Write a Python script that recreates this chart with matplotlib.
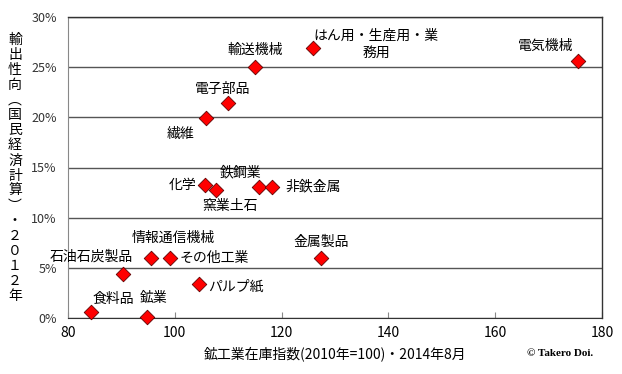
import matplotlib
matplotlib.use("Agg")
import matplotlib.pyplot as plt
from matplotlib.ticker import FuncFormatter

plt.rcParams['font.family'] = ['Noto Sans CJK JP', 'DejaVu Sans']

names = ["食料品", "鉱業", "石油石炭製品", "情報通信機械", "その他工業", "パルプ紙",
         "金属製品", "化学", "窯業土石", "鉄鋼業", "非鉄金属", "繊維", "電子部品",
         "輸送機械", "はん用・生産用・業\n務用", "電気機械"]
inventory = [84.3, 94.8, 90.3, 95.5, 99.1, 104.5, 127.4, 105.7, 107.7, 115.8, 118.2,
             105.8, 110.0, 115.0, 125.9, 175.5]
export_ratio = [0.6, 0.1, 4.4, 6.0, 6.0, 3.4, 6.0, 13.3, 12.8, 13.1, 13.1,
                19.9, 21.4, 25.0, 26.9, 25.6]
x_ticks = [80, 100, 120, 140, 160, 180]
y_ticks = [0, 5, 10, 15, 20, 25, 30]

# label offsets in pixels (dx, dy, ha)
offsets = {
    "食料品": (2, 13, "left"),
    "鉱業": (-7, 19, "left"),
    "石油石炭製品": (10, 17, "right"),
    "情報通信機械": (22, 20, "center"),
    "その他工業": (10, 0, "left"),
    "パルプ紙": (9, -3, "left"),
    "金属製品": (0, 16, "center"),
    "化学": (-9, 0, "right"),
    "窯業土石": (14, -16, "center"),
    "鉄鋼業": (-19, 14, "center"),
    "非鉄金属": (13, 0, "left"),
    "繊維": (-11, -16, "right"),
    "電子部品": (-6, 14, "center"),
    "輸送機械": (0, 17, "center"),
    "はん用・生産用・業\n務用": (63, 4, "center"),
    "電気機械": (-32, 15, "center"),
}

fig = plt.figure(figsize=(6.22, 3.74), dpi=100)
ax = fig.add_axes([68/622, 1-318/374, (602-68)/622, (318-17)/374])

ax.scatter(inventory, export_ratio, marker="D", s=55, c="#ff0000",
           edgecolors="#600000", linewidths=0.6, zorder=5, clip_on=False)

for n, xv, yv in zip(names, inventory, export_ratio):
    dx, dy, ha = offsets[n]
    ax.annotate(n, (xv, yv), xytext=(dx, dy), textcoords="offset pixels",
                ha=ha, va="center", fontsize=10, color="black",
                multialignment="center", linespacing=1.3, zorder=6)

ax.set_xlim(80, 180)
ax.set_ylim(0, 30)
ax.set_xticks(x_ticks)
ax.set_yticks(y_ticks)
ax.yaxis.set_major_formatter(FuncFormatter(lambda v, p: f"{int(v)}%"))
ax.tick_params(axis="x", direction="in", length=4, color="#888888", labelsize=10, pad=6)
ax.tick_params(axis="y", length=0, labelsize=9, pad=8)
for lbl in ax.get_yticklabels():
    lbl.set_color("#333333")

ax.grid(axis="y", color="#555555", linewidth=1.0)
ax.set_axisbelow(True)
for s in ["top", "right"]:
    ax.spines[s].set_color("#333333")
    ax.spines[s].set_linewidth(1.0)
ax.spines["left"].set_color("#888888")
ax.spines["bottom"].set_color("#333333")

ax.set_xlabel("鉱工業在庫指数(2010年=100)・2014年8月", fontsize=10, labelpad=4)

ylabel = "輸出性向︵国民経済計算︶・２０１２年"
fig.text(15/622, 1-168/374, "\n".join(ylabel), ha="center", va="center",
         fontsize=10, linespacing=1.1)

fig.text(560/622, 1-354/374, "© Takero Doi.", ha="center", va="center",
         fontsize=8, fontweight="bold", family="Liberation Serif")

fig.savefig("out.png", dpi=100)
